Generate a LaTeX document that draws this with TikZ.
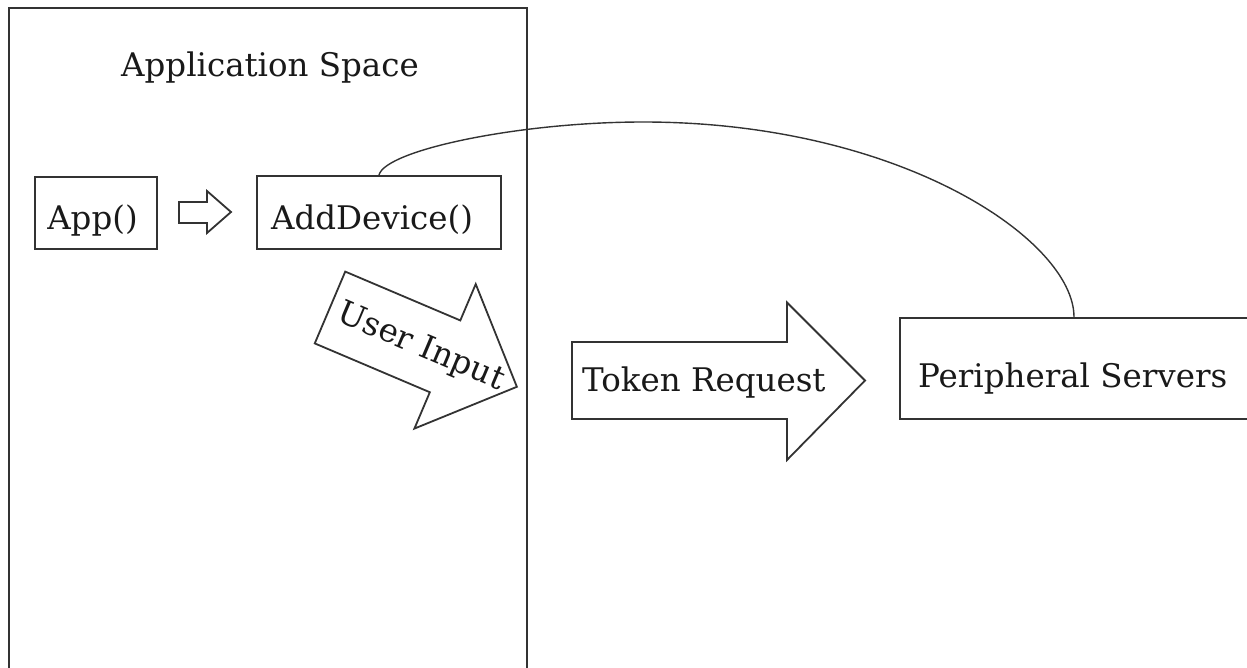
\documentclass[tikz,border=0pt]{standalone}
\usepackage{fontspec}
\setmainfont{DejaVu Serif}
\begin{document}
\begin{tikzpicture}[x=1pt,y=-1pt,
  ink/.style={draw=black!80, line width=1.8pt},
  boxst/.style={ink, rectangle, inner sep=0pt},
  txt/.style={inner sep=0pt, text=black!90, font=\fontsize{32.5}{38}\selectfont},
  blockarrow/.style={ink, fill=white, line join=miter}]
\useasboundingbox (0,0) rectangle (1247,668);

% application space frame (open at the bottom)
\draw[ink] (9,668) -- (9,8) -- (527,8) -- (527,668);
\node[txt, anchor=base] (title) at (270,77) {Application Space};

% function boxes
\node[boxst, minimum width=122, minimum height=72] (app) at (96,213) {};
\node[txt, anchor=base] (apptxt) at (92.5,230) {App()};
\node[boxst, minimum width=244, minimum height=73] (add) at (379,212.5) {};
\node[txt, anchor=base] (addtxt) at (372,230) {AddDevice()};

% small hollow arrow between the boxes
\draw[blockarrow] (179,202) -- (207,202) -- (207,191) -- (231,212)
  -- (207,233) -- (207,223) -- (179,223) -- cycle;

% peripheral servers box
\node[boxst, minimum width=348, minimum height=101] (per) at (1074,368.5) {};
\node[txt, anchor=base west] (pertxt) at (918,387) {Peripheral Servers};

% connection from AddDevice() to the servers
\coordinate (peak) at (643,122);
\draw[ink, line width=1.4pt] (add.north) .. controls (385,150) and (520,122) .. (peak)
  .. controls (900,122) and (1074,240) .. (per.north);

% user input block arrow
\begin{scope}[shift={(330,307.5)}, rotate=-23]
  \draw[blockarrow] (0,-39) -- (125,-39) -- (125,-78.5) -- (203,0)
    -- (125,78.5) -- (125,39) -- (0,39) -- cycle;
  \node[txt, anchor=base west, rotate=-23] (uin) at (10,10) {User Input};
\end{scope}

% token request block arrow
\begin{scope}[shift={(572,380.5)}]
  \draw[blockarrow] (0,-38.5) -- (215,-38.5) -- (215,-78) -- (293,0)
    -- (215,79.5) -- (215,38.5) -- (0,38.5) -- cycle;
  \node[txt, anchor=base west] (tok) at (10,10.5) {Token Request};
\end{scope}
\end{tikzpicture}
\end{document}
